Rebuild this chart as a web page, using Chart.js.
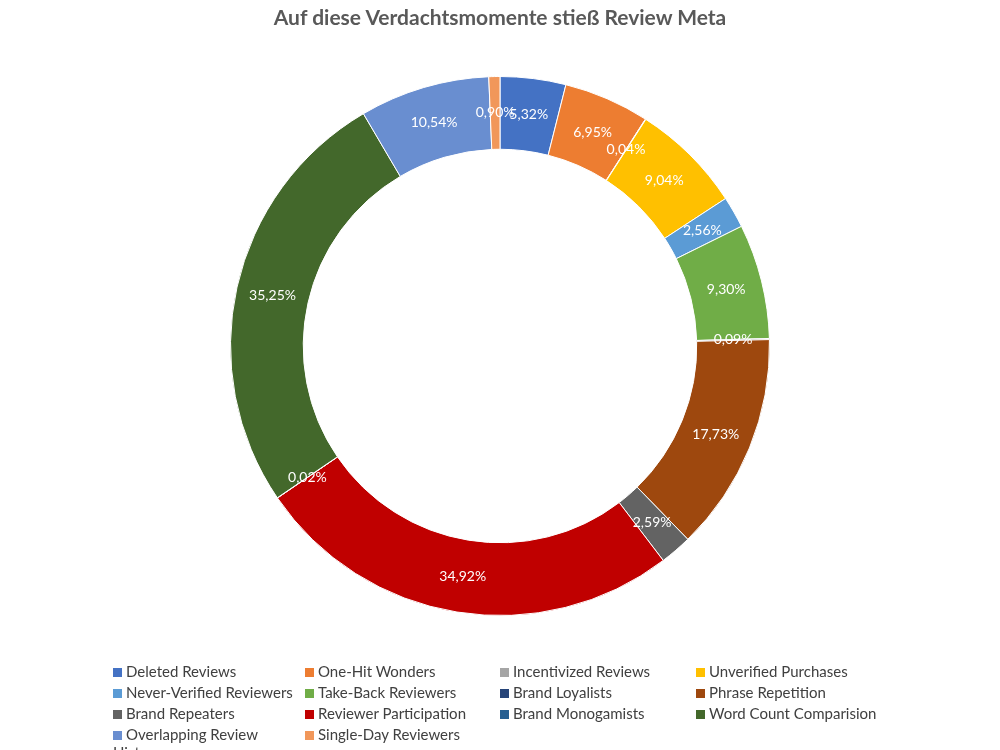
<!DOCTYPE html>
<html>
<head>
<meta charset="utf-8">
<script src="https://cdn.jsdelivr.net/npm/chart.js@4"></script>
<style>
    body { margin: 0; background: #fff; font-family: Lato, "Open Sans", sans-serif; }
    #wrap { position: relative; width: 1000px; height: 750px; }
    #title { position: absolute; top: 4px; left: 0; width: 1000px; text-align: center; font-size: 21px; font-weight: bold; color: #595959; }
    #legend { position: absolute; top: 662px; left: 113px; display: grid; grid-template-columns: 192px 195px 196px 200px; row-gap: 3px; font-size: 15px; color: #404040; }
    #legend span.box { display: inline-block; width: 9px; height: 9px; margin-right: 4px; }
</style>
</head>
<body>
<div id="wrap">
    <canvas id="chart" width="1000" height="750"></canvas>
    <div id="title">Auf diese Verdachtsmomente stieß Review Meta</div>
    <div id="legend"></div>
</div>
<script>
var categories = ["Deleted Reviews", "One-Hit Wonders", "Incentivized Reviews", "Unverified Purchases",
    "Never-Verified Reviewers", "Take-Back Reviewers", "Brand Loyalists", "Phrase Repetition",
    "Brand Repeaters", "Reviewer Participation", "Brand Monogamists", "Word Count Comparision",
    "Overlapping Review History", "Single-Day Reviewers"];
var values = [5.32, 6.95, 0.04, 9.04, 2.56, 9.30, 0.09, 17.73, 2.59, 34.92, 0.02, 35.25, 10.54, 0.90];
var colors = ["#4472C4", "#ED7D31", "#A5A5A5", "#FFC000", "#5B9BD5", "#70AD47", "#264478", "#9E480E",
    "#636363", "#C00000", "#255E91", "#43682B", "#698ED0", "#F1975A"];

var legend = document.getElementById("legend");
categories.forEach(function(name, i) {
    var item = document.createElement("div");
    item.innerHTML = '<span class="box" style="background:' + colors[i] + '"></span>' + name;
    legend.appendChild(item);
});

var labelPlugin = {
    id: "sliceLabels",
    afterDatasetsDraw: function(chart) {
        var ctx = chart.ctx;
        var meta = chart.getDatasetMeta(0);
        ctx.save();
        ctx.font = "14px Lato, sans-serif";
        ctx.fillStyle = "#fff";
        ctx.textAlign = "center";
        ctx.textBaseline = "middle";
        meta.data.forEach(function(arc, i) {
            var p = arc.tooltipPosition();
            ctx.fillText(values[i].toFixed(2).replace(".", ",") + "%", p.x, p.y);
        });
        ctx.restore();
    }
};

new Chart(document.getElementById("chart").getContext("2d"), {
    type: "doughnut",
    data: {
        labels: categories,
        datasets: [{
            data: values,
            backgroundColor: colors,
            borderColor: "#fff",
            borderWidth: 1
        }]
    },
    options: {
        responsive: false,
        animation: false,
        cutout: "73%",
        layout: { padding: { top: 76, bottom: 134 } },
        plugins: {
            legend: { display: false },
            tooltip: { enabled: false }
        }
    },
    plugins: [labelPlugin]
});
</script>
</body>
</html>
